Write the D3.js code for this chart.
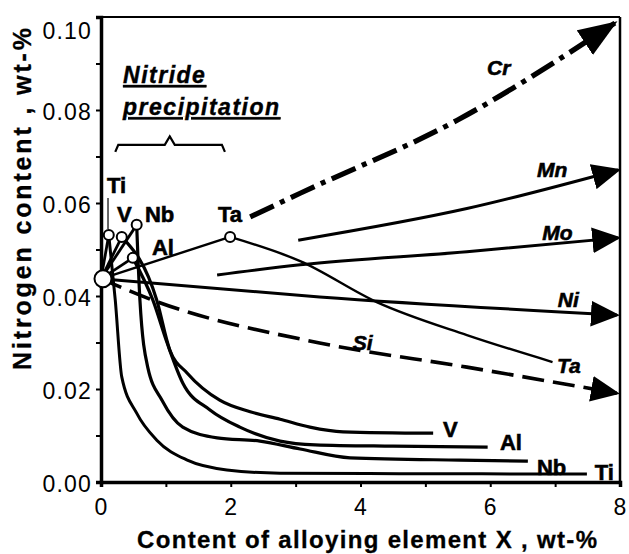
<!DOCTYPE html>
<html>
<head>
<meta charset="utf-8">
<script src="https://cdn.jsdelivr.net/npm/d3@7"></script>
<style>
  body { margin: 0; background: #fff; }
  text { font-family: "Liberation Sans", Arial, sans-serif; fill: #000; }
</style>
</head>
<body>
<svg id="chart" width="629" height="554"></svg>
<script>
// Axis ticks
const xTicks = [0, 2, 4, 6, 8];
const yTicks = [0, 0.02, 0.04, 0.06, 0.08, 0.10];
const xMinorTicks = [0, 1, 2, 3, 4, 5, 6, 7, 8];
const yMinorTicks = [0, 0.01, 0.02, 0.03, 0.04, 0.05, 0.06, 0.07, 0.08, 0.09, 0.10];

// Nitrogen content of the base steel (no alloying addition)
const baseSteel = [0, 0.0437];

// Nitride formers: maximum solubility point before nitride precipitation
const peakElements = ["Ti", "V", "Nb", "Al", "Ta"];
const peakX = [0.12, 0.32, 0.55, 0.49, 1.99];
const peakN = [0.0531, 0.0527, 0.0553, 0.0482, 0.0527];

// Nitrogen content after precipitation, [wt-% X, wt-% N]
const tiCurve = [[0.12, 0.0531], [0.22, 0.0391], [0.32, 0.0226], [0.55, 0.0148], [0.86, 0.0090],
                 [1.33, 0.0047], [1.94, 0.0026], [2.76, 0.0019], [4.6, 0.0018], [7.49, 0.0017]];
const vCurve  = [[0.32, 0.0527], [0.86, 0.0391], [1.06, 0.0284], [1.33, 0.0234], [1.83, 0.0176],
                 [2.30, 0.0151], [2.76, 0.0135], [3.22, 0.0118], [3.73, 0.0108], [5.12, 0.0105]];
const nbCurve = [[0.55, 0.0553], [0.60, 0.0391], [0.72, 0.0247], [0.94, 0.0176], [1.26, 0.0118],
                 [1.79, 0.0095], [2.45, 0.0088], [3.07, 0.0071], [3.84, 0.0052], [5.53, 0.0047], [6.58, 0.0045]];
const alCurve = [[0.49, 0.0482], [0.80, 0.0391], [1.02, 0.0299], [1.26, 0.0213], [1.68, 0.0155],
                 [2.14, 0.0118], [2.76, 0.0088], [3.30, 0.0080], [4.50, 0.0077], [5.96, 0.0075]];
const taCurve = [[1.99, 0.0527], [3.07, 0.0475], [4.25, 0.0387], [5.64, 0.0316], [6.96, 0.0258]];

// Elements raising or lowering nitrogen solubility
const niLine = [[0, 0.0437], [3.37, 0.0398], [7.95, 0.0359]];
const siLine = [[0, 0.0437], [0.8, 0.0391], [3.37, 0.0299], [5.64, 0.0247], [7.95, 0.0191]];
const moLine = [[1.79, 0.0445], [3.07, 0.0467], [5.64, 0.0495], [7.97, 0.0525]];
const mnLine = [[3.04, 0.0520], [5.64, 0.0588], [7.97, 0.0671]];
const crLine = [[2.30, 0.0570], [3.07, 0.0621], [5.49, 0.0778], [7.92, 0.0987]];

// Text labels: [text, x, y] in data units (left edge, baseline)
const plainLabels = [
  ["Ti", 0.092, 0.0622], ["V", 0.247, 0.0559], ["Nb", 0.678, 0.0559], ["Al", 0.786, 0.0488],
  ["Ta", 1.803, 0.0559], ["V", 5.27, 0.0097], ["Al", 6.15, 0.0069], ["Nb", 6.72, 0.0015],
  ["Ti", 7.61, 0.0004]
];
const italicLabels = [
  ["Cr", 5.95, 0.0875], ["Mn", 6.72, 0.0656], ["Mo", 6.80, 0.0520], ["Ni", 7.04, 0.0376],
  ["Si", 3.88, 0.0284], ["Ta", 7.03, 0.0234]
];

const W = 629, H = 554;
const margin = { top: 17, right: 9, bottom: 72, left: 101 };

const svg = d3.select("#chart");
const x = d3.scaleLinear().domain([0, 8]).range([margin.left, W - margin.right]);
const y = d3.scaleLinear().domain([0, 0.1]).range([H - margin.bottom, margin.top]);

const line = d3.line().x(d => x(d[0])).y(d => y(d[1]));
const smooth = d3.line().x(d => x(d[0])).y(d => y(d[1])).curve(d3.curveMonotoneX);

// Arrowhead markers
const defs = svg.append("defs");
function arrowMarker(id, len, wid) {
  defs.append("marker")
    .attr("id", id)
    .attr("markerUnits", "userSpaceOnUse")
    .attr("markerWidth", len + 2).attr("markerHeight", wid + 2)
    .attr("viewBox", `0 0 ${len} ${wid}`)
    .attr("refX", len - 3).attr("refY", wid / 2)
    .attr("orient", "auto")
    .append("path")
    .attr("d", `M0,0L${len},${wid / 2}L0,${wid}Z`)
    .attr("fill", "#000");
}
arrowMarker("arrowBig", 37, 28);
arrowMarker("arrow", 27, 24);

// Frame (top and right)
const frame = svg.append("g");
frame.append("line").attr("x1", x(0)).attr("x2", x(8)).attr("y1", y(0.1)).attr("y2", y(0.1))
  .attr("stroke", "#000").attr("stroke-width", 2);
frame.append("line").attr("x1", x(8)).attr("x2", x(8)).attr("y1", y(0.1)).attr("y2", y(0))
  .attr("stroke", "#000").attr("stroke-width", 2.5);

// Axes
const xAxis = svg.append("g").attr("transform", `translate(0,${y(0)})`)
  .call(d3.axisBottom(x).tickValues(xMinorTicks).tickSize(5).tickFormat(""));
const xLab = svg.append("g").attr("transform", `translate(0,${y(0)})`)
  .call(d3.axisBottom(x).tickValues(xTicks).tickSize(0).tickPadding(17).tickFormat(d3.format("d")));
const yAxis = svg.append("g").attr("transform", `translate(${x(0)},0)`)
  .call(d3.axisLeft(y).tickValues(yMinorTicks).tickSize(5).tickFormat(""));
const yLab = svg.append("g").attr("transform", `translate(${x(0)},0)`)
  .call(d3.axisLeft(y).tickValues(yTicks).tickSize(0).tickPadding(9).tickFormat(d3.format(".2f")));

[xAxis, yAxis].forEach(g => {
  g.select(".domain").attr("stroke-width", 3.5);
  g.selectAll(".tick line").attr("stroke-width", 2);
});
[xLab, yLab].forEach(g => {
  g.select(".domain").remove();
  g.selectAll("text").attr("font-size", 23).attr("letter-spacing", "1.2px")
    .attr("font-family", "'Liberation Sans', Arial, sans-serif");
});
yLab.selectAll(".tick text").attr("dy", d => d === 0.1 ? "0.95em" : "0.42em");

// Axis titles
svg.append("text")
  .attr("x", 367).attr("y", 548)
  .attr("text-anchor", "middle")
  .attr("font-size", 24).attr("font-weight", "bold")
  .attr("stroke", "#000").attr("stroke-width", 0.3)
  .attr("textLength", 460).attr("lengthAdjust", "spacing")
  .text("Content of alloying element X , wt-%");
svg.append("text")
  .attr("transform", `translate(31,199) rotate(-90)`)
  .attr("text-anchor", "middle")
  .attr("font-size", 25).attr("font-weight", "bold")
  .attr("stroke", "#000").attr("stroke-width", 0.3)
  .attr("textLength", 342).attr("lengthAdjust", "spacing")
  .text("Nitrogen content , wt-%");

const plot = svg.append("g").attr("fill", "none").attr("stroke", "#000");

// Rise of nitrogen up to the nitride precipitation point
peakElements.forEach((el, i) => {
  plot.append("path")
    .attr("d", line([baseSteel, [peakX[i], peakN[i]]]))
    .attr("stroke-width", el === "Ta" ? 2.4 : 2.8);
});

// Precipitation curves
[[tiCurve, 3], [vCurve, 3.2], [nbCurve, 3.2], [alCurve, 3.2], [taCurve, 2.4]].forEach(([c, w]) => {
  plot.append("path").attr("d", smooth(c)).attr("stroke-width", w);
});

// Solubility trend lines with arrows
plot.append("path").attr("d", smooth(niLine)).attr("stroke-width", 3)
  .attr("marker-end", "url(#arrow)");
plot.append("path").attr("d", smooth(siLine)).attr("stroke-width", 3.6)
  .attr("stroke-dasharray", "22,9").attr("marker-end", "url(#arrow)");
plot.append("path").attr("d", smooth(moLine)).attr("stroke-width", 3)
  .attr("marker-end", "url(#arrow)");
plot.append("path").attr("d", smooth(mnLine)).attr("stroke-width", 3)
  .attr("marker-end", "url(#arrow)");
plot.append("path").attr("d", smooth(crLine)).attr("stroke-width", 5.2)
  .attr("stroke-dasharray", "26,7,5,7").attr("marker-end", "url(#arrowBig)");

// Leader from the upper Ti label to its point
plot.append("path").attr("d", line([[0.108, 0.0611], [0.108, 0.0544]])).attr("stroke-width", 1.2);

// Brace over the nitride precipitation range
const bx0 = 0.22, bx1 = 1.91, bxm = 1.06, by = 0.0725;
const brace = d3.path();
brace.moveTo(x(bx0), y(by - 0.0015));
brace.lineTo(x(bx0) + 3, y(by));
brace.lineTo(x(bxm) - 5, y(by));
brace.lineTo(x(bxm), y(by + 0.0018));
brace.lineTo(x(bxm) + 5, y(by));
brace.lineTo(x(bx1) - 3, y(by));
brace.lineTo(x(bx1), y(by - 0.0015));
plot.append("path").attr("d", brace.toString()).attr("stroke-width", 2.2);

// Points
svg.append("circle").attr("cx", x(baseSteel[0]) + 2).attr("cy", y(baseSteel[1]))
  .attr("r", 8.5).attr("fill", "#fff").attr("stroke", "#000").attr("stroke-width", 2);
svg.selectAll("circle.peak").data(peakX).join("circle").attr("class", "peak")
  .attr("cx", (d, i) => x(d)).attr("cy", (d, i) => y(peakN[i]))
  .attr("r", 5).attr("fill", "#fff").attr("stroke", "#000").attr("stroke-width", 2);

// Labels
svg.selectAll("text.plain").data(plainLabels).join("text").attr("class", "plain")
  .attr("x", d => x(d[1])).attr("y", d => y(d[2]))
  .attr("font-size", 22).attr("font-weight", "bold")
  .attr("stroke", "#000").attr("stroke-width", 0.6)
  .text(d => d[0]);
svg.selectAll("text.ital").data(italicLabels).join("text").attr("class", "ital")
  .attr("x", d => x(d[1])).attr("y", d => y(d[2]))
  .attr("font-size", 21).attr("font-weight", "bold").attr("font-style", "italic")
  .attr("stroke", "#000").attr("stroke-width", 0.6)
  .text(d => d[0]);

// Nitride precipitation caption
const cap = svg.append("text").attr("font-size", 23).attr("font-weight", "bold")
  .attr("font-style", "italic").attr("text-decoration", "underline").attr("letter-spacing", "1.5px")
  .attr("stroke", "#000").attr("stroke-width", 0.4);
cap.append("tspan").attr("x", x(0.34)).attr("y", y(0.0858)).text("Nitride");
cap.append("tspan").attr("x", x(0.34)).attr("y", y(0.0789)).text("precipitation");
</script>
</body>
</html>
